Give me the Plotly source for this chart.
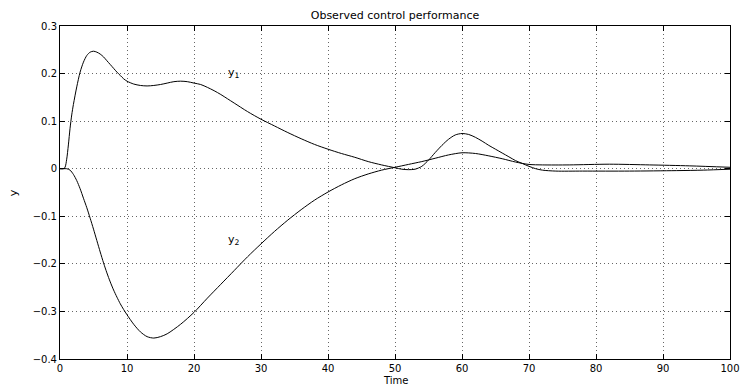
import plotly.graph_objects as go

# ---- data ----
t1 = [0, 0.5, 0.75, 1.0, 1.25, 1.5, 1.75, 2.0, 2.5, 3.0, 3.5, 4.0, 4.5, 5.0, 5.5, 6.0,
      6.5, 7.0, 7.5, 8.0, 8.5, 9.0, 9.5, 10, 11, 12, 13, 14, 15, 16, 17, 18, 19, 20, 21,
      22, 23, 24, 25, 26, 28, 30, 32, 34, 36, 38, 40, 42, 44, 46, 48, 50, 51, 52, 53,
      54, 55, 56, 57, 58, 59, 60, 61, 62, 63, 64, 65, 66, 67, 68, 69, 70, 71, 72, 74,
      78, 85, 92, 96, 100]
y1 = [0, 0, 0.003, 0.02, 0.05, 0.085, 0.113, 0.135, 0.172, 0.203, 0.224, 0.238, 0.245,
      0.247, 0.245, 0.241, 0.235, 0.227, 0.219, 0.211, 0.203, 0.196, 0.189, 0.184, 0.178,
      0.175, 0.174, 0.175, 0.177, 0.18, 0.183, 0.184, 0.183, 0.18, 0.177, 0.171, 0.164,
      0.156, 0.147, 0.138, 0.12, 0.104, 0.09, 0.076, 0.063, 0.051, 0.041, 0.032, 0.024,
      0.015, 0.008, 0.002, -0.001, -0.002, -0.001, 0.005, 0.018, 0.034, 0.049, 0.062,
      0.071, 0.074, 0.072, 0.066, 0.058, 0.049, 0.041, 0.033, 0.025, 0.017, 0.011,
      0.005, 0.0, -0.003, -0.005, -0.005, -0.005, -0.004, -0.003, -0.001]

t2 = [0, 0.5, 1.0, 1.5, 2.0, 2.5, 3.0, 3.5, 4.0, 4.5, 5.0, 5.5, 6.0, 6.5, 7.0, 7.5, 8.0,
      8.5, 9.0, 9.5, 10, 11, 12, 13, 14, 15, 16, 18, 20, 22, 24, 26, 28, 30, 32, 34, 36,
      38, 40, 42, 44, 46, 48, 50, 52, 54, 56, 58, 60, 62, 64, 66, 68, 70, 72, 76, 82, 88,
      94, 100]
y2 = [0, 0, 0, -0.003, -0.012, -0.025, -0.042, -0.062, -0.082, -0.104, -0.127, -0.151,
      -0.175, -0.198, -0.219, -0.238, -0.255, -0.27, -0.284, -0.296, -0.307, -0.327,
      -0.343, -0.353, -0.356, -0.353, -0.347, -0.327, -0.302, -0.272, -0.243, -0.214,
      -0.185, -0.158, -0.132, -0.108, -0.086, -0.066, -0.049, -0.034, -0.021, -0.011,
      -0.003, 0.003, 0.009, 0.015, 0.022, 0.029, 0.0335, 0.032, 0.027, 0.021, 0.014,
      0.009, 0.008, 0.008, 0.0095, 0.008, 0.006, 0.003]

x_ticks = [0, 10, 20, 30, 40, 50, 60, 70, 80, 90, 100]
y_ticks = [-0.4, -0.3, -0.2, -0.1, 0, 0.1, 0.2, 0.3]

title_text = "Observed control performance"
x_label = "Time"
y_label = "y"
labels = [("y<sub>1</sub>", 26, 0.202), ("y<sub>2</sub>", 26, -0.149)]

FONT = "DejaVu Sans"
W, H = 751, 385
ML, MR, MT, MB = 60, 11, 26, 26

fig = go.Figure()
for tx, yy in ((t1, y1), (t2, y2)):
    fig.add_trace(go.Scatter(x=tx, y=yy, mode="lines",
                             line=dict(color="black", width=1, shape="spline", smoothing=0.8),
                             showlegend=False, hoverinfo="skip"))

for txt, xv, yv in labels:
    fig.add_annotation(x=xv, y=yv, text=txt, showarrow=False, xanchor="center", yanchor="middle",
                       font=dict(family=FONT, size=11, color="black"))

ph = H - MT - MB
pw = W - ML - MR
fig.add_annotation(xref="paper", yref="paper", x=0.5, y=(-(380 - (H - MB)) / ph), text=x_label,
                   showarrow=False, xanchor="center", yanchor="middle",
                   font=dict(family=FONT, size=10, color="black"))
fig.add_annotation(xref="paper", yref="paper", x=(13 - ML) / pw, y=0.5, text=y_label, textangle=-90,
                   showarrow=False, xanchor="center", yanchor="middle",
                   font=dict(family=FONT, size=11, color="black"))

axis_common = dict(showline=True, linecolor="black", linewidth=1, mirror="ticks", ticks="inside",
                   ticklen=5, tickcolor="black", tickwidth=1, showgrid=True, gridcolor="#666",
                   gridwidth=1, griddash="1px,3px", zeroline=False,
                   tickfont=dict(family=FONT, size=10, color="black"))

fig.update_xaxes(range=[0, 100], tickvals=x_ticks, ticktext=[str(v) for v in x_ticks], **axis_common)
fig.update_yaxes(range=[-0.4, 0.3], tickvals=y_ticks, **axis_common)

fig.update_layout(
    width=W, height=H,
    margin=dict(l=ML, r=MR, t=MT, b=MB, pad=0),
    paper_bgcolor="white", plot_bgcolor="white",
    title=dict(text=title_text, x=0.5, xref="paper", y=1 - 15 / H, yref="container",
               xanchor="center", yanchor="middle", font=dict(family=FONT, size=11, color="black")),
    font=dict(family=FONT, size=10, color="black"),
)

fig.write_html("out.html")
